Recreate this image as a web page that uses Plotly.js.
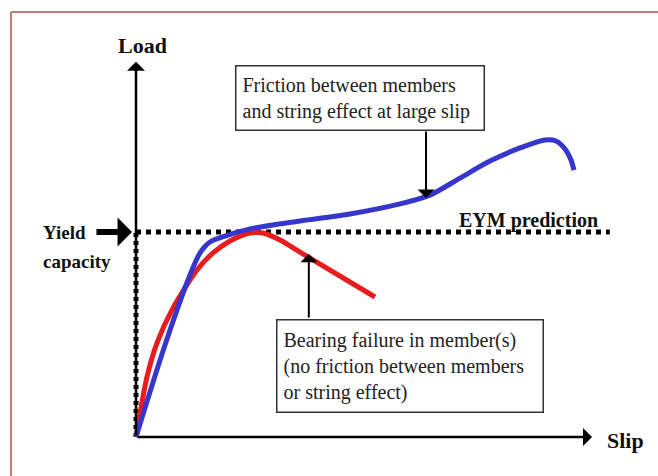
<!DOCTYPE html>
<html>
<head>
<meta charset="utf-8">
<script src="https://cdn.plot.ly/plotly-3.0.1.min.js"></script>
<style>html,body{margin:0;padding:0;background:#fff;}#chart{width:658px;height:476px;}</style>
</head>
<body>
<div id="chart"></div>
<script>
// Slip (arbitrary units) and Load (normalised to yield capacity = 1)
const slipBlue = [0, 0.636, 1.184, 1.404, 1.623, 1.952, 2.500, 3.596, 4.693, 5.789, 6.447, 7.105, 7.763, 8.421, 8.969, 9.211, 9.408, 9.539, 9.605];
const loadBlue = [0, 0.449, 0.790, 0.898, 0.951, 0.980, 1.015, 1.054, 1.088, 1.137, 1.180, 1.263, 1.346, 1.410, 1.449, 1.444, 1.405, 1.351, 1.302];
const slipRed = [0, 0.241, 0.461, 0.789, 1.338, 1.689, 2.061, 2.500, 2.785, 3.158, 3.596, 5.241];
const loadRed = [0, 0.293, 0.459, 0.620, 0.815, 0.898, 0.956, 0.995, 0.995, 0.961, 0.902, 0.683];
const yieldLoad = 1.0;
const eymSlip = [0, 10.39];
const slipAxisEnd = 10.0;
const loadAxisEnd = 1.83;
const frictionPoint = [6.36, 1.166];
const bearingPoint = [3.79, 0.893];

const labels = {
  load: "Load", slip: "Slip", yield1: "Yield", yield2: "capacity",
  eym: "EYM prediction",
  friction: "Friction between members<br>and string effect at large slip",
  bearing: "Bearing failure in member(s)<br>(no friction between members<br>or string effect)"
};

const W = 658, H = 476;
const px = v => v / W, py = v => 1 - v / H;
const serif = "Liberation Serif, Times New Roman, serif";

const traces = [
  {x: eymSlip, y: [yieldLoad, yieldLoad], mode: 'lines', line: {color: '#000', width: 5, dash: '5px,5px'}, hoverinfo: 'skip'},
  {x: [0, 0], y: [0, yieldLoad], mode: 'lines', line: {color: '#000', width: 5, dash: '4px,4px'}, hoverinfo: 'skip'},
  {x: slipRed, y: loadRed, mode: 'lines', line: {color: '#e81c1c', width: 5, shape: 'spline', smoothing: 0.8}, hoverinfo: 'skip'},
  {x: slipBlue, y: loadBlue, mode: 'lines', line: {color: '#3636cc', width: 5, shape: 'spline', smoothing: 0.8}, hoverinfo: 'skip'}
];

const arrow = (x, y, ax, ay, w, s) => ({x: x, y: y, ax: ax, ay: ay, xref: 'x', yref: 'y', axref: 'x', ayref: 'y',
  text: '', showarrow: true, arrowhead: 1, arrowsize: s, arrowwidth: w, arrowcolor: '#000', standoff: 0, startstandoff: 0});

const annotations = [
  arrow(0, loadAxisEnd, 0, 0, 2.5, 1.2),
  arrow(slipAxisEnd, 0, 0, 0, 2.5, 1.2),
  arrow(-0.088, yieldLoad, -0.9, yieldLoad, 6, 0.8),
  arrow(frictionPoint[0], frictionPoint[1], frictionPoint[0], 1.498, 2, 1.4),
  arrow(bearingPoint[0], bearingPoint[1], bearingPoint[0], 0.576, 2, 1.4),
  {xref: 'paper', yref: 'paper', x: px(142), y: py(46), xanchor: 'center', yanchor: 'middle', showarrow: false,
   text: '<b>' + labels.load + '</b>', font: {family: serif, size: 22, color: '#111'}},
  {xref: 'paper', yref: 'paper', x: px(605), y: py(440), xanchor: 'left', yanchor: 'middle', showarrow: false,
   text: '<b>' + labels.slip + '</b>', font: {family: serif, size: 22, color: '#111'}},
  {xref: 'paper', yref: 'paper', x: px(41), y: py(232), xanchor: 'left', yanchor: 'middle', showarrow: false,
   text: '<b>' + labels.yield1 + '</b>', font: {family: serif, size: 19, color: '#111'}},
  {xref: 'paper', yref: 'paper', x: px(41), y: py(261), xanchor: 'left', yanchor: 'middle', showarrow: false,
   text: '<b>' + labels.yield2 + '</b>', font: {family: serif, size: 19, color: '#111'}},
  {xref: 'paper', yref: 'paper', x: px(457), y: py(220), xanchor: 'left', yanchor: 'middle', showarrow: false,
   text: '<b>' + labels.eym + '</b>', font: {family: serif, size: 20, color: '#111'}},
  {xref: 'paper', yref: 'paper', x: px(235), y: py(65), xanchor: 'left', yanchor: 'top', showarrow: false,
   text: labels.friction, align: 'left', width: 235, height: 51, valign: 'middle', borderpad: 6,
   bordercolor: '#333', borderwidth: 1.5, bgcolor: '#fff', font: {family: serif, size: 20, color: '#222'}},
  {xref: 'paper', yref: 'paper', x: px(276), y: py(319), xanchor: 'left', yanchor: 'top', showarrow: false,
   text: labels.bearing, align: 'left', width: 253, height: 79, valign: 'middle', borderpad: 6,
   bordercolor: '#333', borderwidth: 1.5, bgcolor: '#fff', font: {family: serif, size: 20, color: '#222'}}
];

const shapes = [
  {type: 'line', xref: 'paper', yref: 'paper', x0: px(11), y0: py(12), x1: 1, y1: py(12), line: {color: '#c97a72', width: 2}},
  {type: 'line', xref: 'paper', yref: 'paper', x0: px(11), y0: py(12), x1: px(11), y1: 0, line: {color: '#c97a72', width: 2}}
];

const layout = {
  width: W, height: H, margin: {l: 0, r: 0, t: 0, b: 0},
  paper_bgcolor: '#fff', plot_bgcolor: '#fff', showlegend: false,
  xaxis: {range: [-136 / 45.6, 522 / 45.6], visible: false, fixedrange: true},
  yaxis: {range: [-39 / 205, 437 / 205], visible: false, fixedrange: true},
  annotations: annotations, shapes: shapes
};

Plotly.newPlot('chart', traces, layout, {displayModeBar: false, staticPlot: true});
</script>
</body>
</html>
